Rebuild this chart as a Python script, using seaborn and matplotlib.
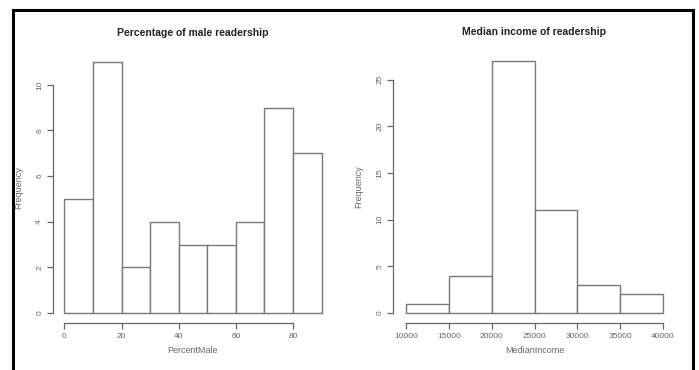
import numpy as np
import pandas as pd
import matplotlib
matplotlib.use("Agg")
import matplotlib.pyplot as plt
from matplotlib.lines import Line2D
import seaborn as sns

# ── Data (R-style histograms: bin edges + counts) ──────────────────────────────
male_edges  = [0, 10, 20, 30, 40, 50, 60, 70, 80, 90]
male_counts = [5, 11, 2, 4, 3, 3, 4, 9, 7]
male_xticks = [0, 20, 40, 60, 80]
male_yticks = [0, 2, 4, 6, 8, 10]

income_edges  = [10000, 15000, 20000, 25000, 30000, 35000, 40000]
income_counts = [1, 4, 27, 11, 3, 2]
income_xticks = [10000, 15000, 20000, 25000, 30000, 35000, 40000]
income_yticks = [0, 5, 10, 15, 20, 25]

sns.set_style("ticks")
plt.rcParams["font.family"] = ["Liberation Sans", "DejaVu Sans"]

W, H = 699, 370
fig = plt.figure(figsize=(W / 100, H / 100), dpi=100)


def px_axes(left, right, top, bottom):
    return fig.add_axes([left / W, (H - bottom) / H, (right - left) / W, (bottom - top) / H])


AX_COL = "#666666"


def r_hist(ax, edges, counts, xlim, ylim, xticks, yticks, title, xlabel):
    e = np.asarray(edges, dtype=float)
    df = pd.DataFrame({"mid": (e[:-1] + e[1:]) / 2, "count": counts})
    sns.histplot(data=df, x="mid", weights="count", bins=list(edges), ax=ax,
                 color="white", edgecolor="#777777", linewidth=1.0, alpha=1)
    ax.set_xlim(*xlim)
    ax.set_ylim(*ylim)
    ax.set_xticks(xticks)
    ax.set_yticks(yticks)
    ax.set_xticklabels([str(t) for t in xticks])
    ax.set_yticklabels([str(t) for t in yticks])
    for s in ["top", "right"]:
        ax.spines[s].set_visible(False)
    ax.spines["left"].set_bounds(yticks[0], yticks[-1])
    ax.spines["bottom"].set_bounds(xticks[0], xticks[-1])
    for s in ["left", "bottom"]:
        ax.spines[s].set_color(AX_COL)
        ax.spines[s].set_linewidth(0.9)
    ax.tick_params(axis="both", length=4, width=0.9, color=AX_COL,
                   labelsize=6, labelcolor="#666666", pad=3)
    plt.setp(ax.get_yticklabels(), rotation=90, va="center")
    ax.set_title(title, fontsize=7.5, fontweight="bold", color="#222222", pad=11.5)
    ax.set_xlabel(xlabel, fontsize=6.5, color="#666666")
    ax.set_ylabel("Frequency", fontsize=6.5, color="#666666")
    ax.set_facecolor("white")


# left panel
ax1 = px_axes(53, 333, 52, 323)
r_hist(ax1, male_edges, male_counts, (-4.0, 94.0), (-0.44, 11.44),
       male_xticks, male_yticks, "Percentage of male readership", "PercentMale")
ax1.yaxis.set_label_coords(-0.107, 0.5)
ax1.xaxis.set_label_coords(0.5, -0.085)

# right panel
ax2 = px_axes(393, 676, 51, 323)
r_hist(ax2, income_edges, income_counts, (8483, 41517), (-1.07, 28.07),
       income_xticks, income_yticks, "Median income of readership", "MedianIncome")
ax2.yaxis.set_label_coords(-0.106, 0.5)
ax2.xaxis.set_label_coords(0.5, -0.085)

# black frame (top, left, right; open at bottom)
frame_pts = [(13, H + 5), (13, 9.7), (693, 9.7), (693, H + 5)]
fig.add_artist(Line2D([p[0] / W for p in frame_pts], [(H - p[1]) / H for p in frame_pts],
                      color="black", linewidth=2.2, solid_joinstyle="miter",
                      transform=fig.transFigure))

fig.savefig("out.png", dpi=100)
